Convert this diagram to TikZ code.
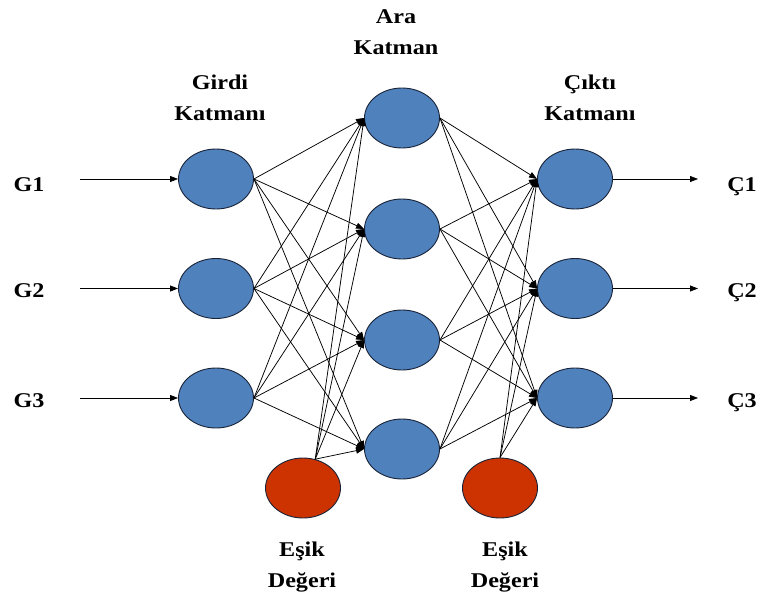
\documentclass[tikz,border=0pt]{standalone}
\usepackage{fontspec}
\setmainfont{Liberation Serif}[FakeStretch=1.15]
\usetikzlibrary{shapes.geometric,arrows.meta}
\definecolor{nblue}{RGB}{79,129,189}
\definecolor{nred}{RGB}{204,51,0}
\definecolor{nedge}{RGB}{25,35,55}
\begin{document}
\begin{tikzpicture}[x=1pt,y=-1pt,
  neuron/.style={ellipse, draw=nedge, line width=0.9pt, fill=nblue, minimum width=75pt, minimum height=60pt, inner sep=0pt},
  biasn/.style={neuron, fill=nred},
  lbl/.style={font=\fontsize{21}{31}\selectfont\bfseries, align=center, inner sep=0pt},
  conn/.style={-{Triangle[length=8pt,width=6pt]}, line width=0.75pt}]
\useasboundingbox (0,0) rectangle (759,596);

% layers
\node[neuron] (i1) at (216,179) {};
\node[neuron] (i2) at (216,288.5) {};
\node[neuron] (i3) at (216,398) {};
\node[neuron] (h1) at (402,118) {};
\node[neuron] (h2) at (402,229) {};
\node[neuron] (h3) at (402,340) {};
\node[neuron] (h4) at (402,449) {};
\node[neuron] (o1) at (575,179) {};
\node[neuron] (o2) at (575,288.5) {};
\node[neuron] (o3) at (575,398) {};
\node[biasn] (b1) at (303,488) {};
\node[biasn] (b2) at (500,488) {};

% labels
\node[lbl] (tg) at (220,98) {Girdi\\Katmanı};
\node[lbl] (ta) at (396,32) {Ara\\Katman};
\node[lbl] (tc) at (590,98) {Çıktı\\Katmanı};
\node[lbl] (te1) at (302,567) {Eşik\\Değeri};
\node[lbl] (te2) at (505,567) {Eşik\\Değeri};
\node[lbl, anchor=base] (g1) at (29,191) {G1};
\node[lbl, anchor=base] (g2) at (29,297) {G2};
\node[lbl, anchor=base] (g3) at (29,407) {G3};
\node[lbl, anchor=base] (c1) at (742,191) {Ç1};
\node[lbl, anchor=base] (c2) at (742,297) {Ç2};
\node[lbl, anchor=base] (c3) at (742,407) {Ç3};

% input/output arrow ends
\coordinate (s1) at (80,179);
\coordinate (s2) at (80,288.5);
\coordinate (s3) at (80,398);
\coordinate (e1) at (698,179);
\coordinate (e2) at (698,288.5);
\coordinate (e3) at (698,398);

\foreach \k in {1,2,3} {
  \draw[conn] (s\k) -- (i\k.west);
  \draw[conn] (o\k.east) -- (e\k);
}
\foreach \i in {1,2,3} \foreach \h in {1,2,3,4}
  \draw[conn] (i\i.east) -- (h\h.west);
\foreach \h in {1,2,3,4}
  \draw[conn] (b1.67) -- (h\h.west);
\foreach \h in {1,2,3,4} \foreach \o in {1,2,3}
  \draw[conn] (h\h.east) -- (o\o.west);
\foreach \o in {1,2,3}
  \draw[conn] (b2.north) -- (o\o.west);
\end{tikzpicture}
\end{document}
